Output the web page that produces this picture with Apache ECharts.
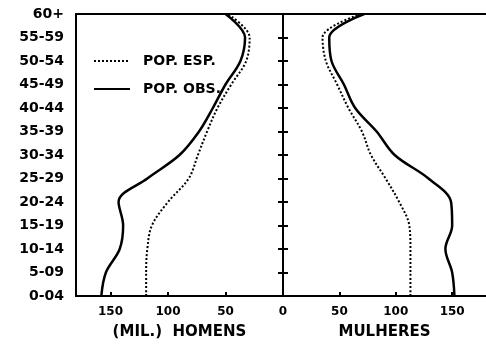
<!DOCTYPE html>
<html><head><meta charset="utf-8">
<script src="https://cdn.jsdelivr.net/npm/echarts@6/dist/echarts.min.js"></script>
<style>html,body{margin:0;padding:0;background:#fff}#c{width:486px;height:345px}</style>
</head><body><div id="c"></div>
<script>
const ageGroups = ['0-04','5-09','10-14','15-19','20-24','25-29','30-34','35-39','40-44','45-49','50-54','55-59','60+'];
const menObs = [158,154,142,139,143,118,90,73,61,50,37,33,50];
const menEsp = [119,119,118,114,100,82,74,66,57,45,32,29,48];
const womenObs = [152,150,144,150,149,129,99,83,64,54,43,41,72];
const womenEsp = [113,113,113,112,103,91,78,70,58,48,38,35,69];
const xTicks = [0,50,100,150];
const seriesNames = ['POP. ESP.','POP. OBS.'];
const axisNames = ['(MIL.)  HOMENS','MULHERES'];

const FONT = 'DejaVu Sans';
const chart = echarts.init(document.getElementById('c'), null, {renderer:'canvas'});
const lineAxis = {show:true, lineStyle:{color:'#000', width:2}};
const xLabel = {fontFamily:FONT, fontWeight:'bold', fontSize:12, color:'#000', margin:10,
  showMinLabel:true, showMaxLabel:false,
  formatter: v => xTicks.includes(v) ? String(v) : ''};
const opt = {
  backgroundColor:'#fff',
  animation:false,
  grid:[
    {left:76, right:203, top:14, bottom:49, show:true, borderColor:'#000', borderWidth:2},
    {left:283, right:-4, top:14, bottom:49, show:false}
  ],
  legend:{
    orient:'vertical', left:88, top:49, itemWidth:36, itemHeight:12, itemGap:14,
    data:seriesNames,
    itemStyle:{opacity:0},
    textStyle:{fontFamily:FONT, fontWeight:'bold', fontSize:14, color:'#000', padding:[0,0,0,8]}
  },
  xAxis:[
    {gridIndex:0, type:'value', min:0, max:180, interval:50, inverse:true,
     axisLine:lineAxis, axisTick:{show:true, inside:true, length:4, lineStyle:{color:'#000', width:2}},
     splitLine:{show:false},
     axisLabel:Object.assign({}, xLabel, {showMinLabel:false}),
     name:axisNames[0], nameLocation:'middle', nameGap:29,
     nameTextStyle:{fontFamily:FONT, fontWeight:'bold', fontSize:15, color:'#000'}},
    {gridIndex:1, type:'value', min:0, max:180, interval:50,
     axisLine:lineAxis, axisTick:{show:true, inside:true, length:4, lineStyle:{color:'#000', width:2}},
     splitLine:{show:false},
     axisLabel:xLabel,
     name:axisNames[1], nameLocation:'middle', nameGap:29,
     nameTextStyle:{fontFamily:FONT, fontWeight:'bold', fontSize:15, color:'#000'}},
    {gridIndex:1, type:'value', min:0, max:180, interval:50, position:'top',
     axisLine:lineAxis, axisTick:{show:false}, axisLabel:{show:false}, splitLine:{show:false}}
  ],
  yAxis:[
    {gridIndex:0, type:'category', data:ageGroups, boundaryGap:false, position:'left',
     axisLine:lineAxis, axisTick:{show:false}, splitLine:{show:false},
     axisLabel:{fontFamily:FONT, fontWeight:'bold', fontSize:14, color:'#000', margin:12, interval:0}},
    {gridIndex:0, type:'category', data:ageGroups, boundaryGap:false, position:'right',
     axisLine:lineAxis, axisTick:{show:true, length:5, interval:0, lineStyle:{color:'#000', width:2}},
     axisLabel:{show:false}, splitLine:{show:false}},
    {gridIndex:1, type:'category', data:ageGroups, boundaryGap:false, position:'left',
     axisLine:lineAxis, axisTick:{show:true, length:5, interval:0, lineStyle:{color:'#000', width:2}},
     axisLabel:{show:false}, splitLine:{show:false}}
  ],
  series:[
    {name:seriesNames[0], type:'line', xAxisIndex:0, yAxisIndex:0, data:menEsp, symbol:'none', smooth:0.35,
     lineStyle:{color:'#000', width:2, type:[2,2]}, itemStyle:{color:'#000'}},
    {name:seriesNames[1], type:'line', xAxisIndex:0, yAxisIndex:0, data:menObs, symbol:'none', smooth:0.35,
     lineStyle:{color:'#000', width:2.5}, itemStyle:{color:'#000'}},
    {name:seriesNames[0], type:'line', xAxisIndex:1, yAxisIndex:2, data:womenEsp, symbol:'none', smooth:0.35,
     lineStyle:{color:'#000', width:2, type:[2,2]}, itemStyle:{color:'#000'}},
    {name:seriesNames[1], type:'line', xAxisIndex:1, yAxisIndex:2, data:womenObs, symbol:'none', smooth:0.35,
     lineStyle:{color:'#000', width:2.5}, itemStyle:{color:'#000'}}
  ]
};
chart.setOption(opt);
</script></body></html>
